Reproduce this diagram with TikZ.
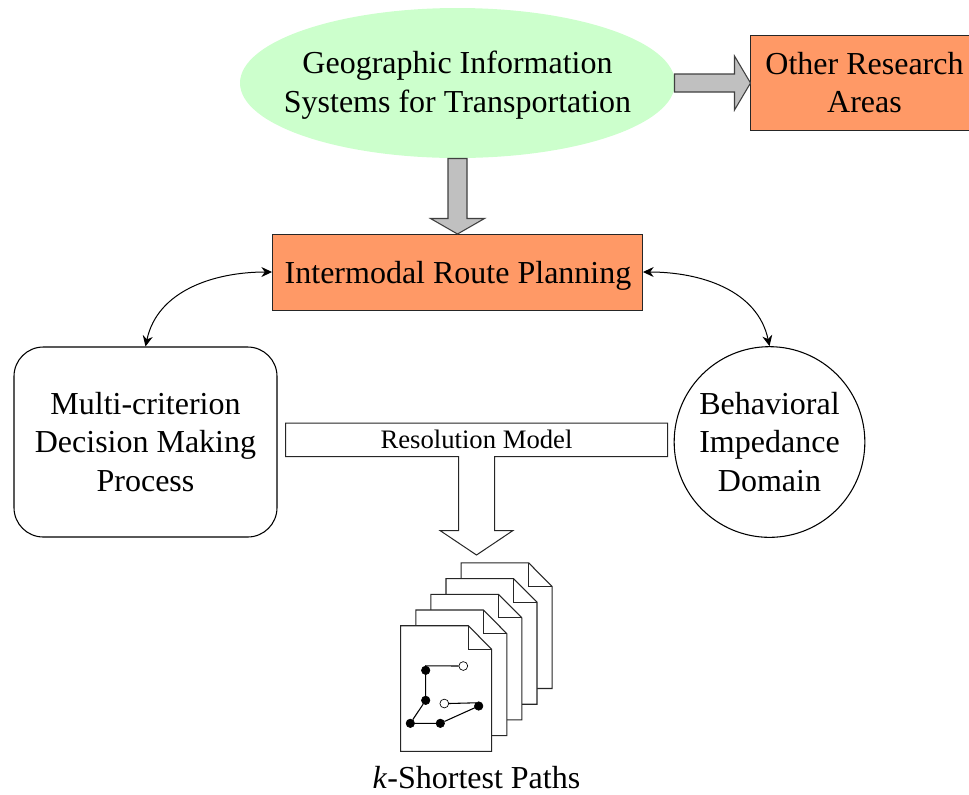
\documentclass[tikz,border=0pt]{standalone}
\usepackage{fontspec}
\setmainfont{Liberation Serif}
\usetikzlibrary{shapes.geometric,arrows.meta}
\definecolor{boxorange}{HTML}{FF9966}
\definecolor{ellgreen}{HTML}{CCFFCC}
\definecolor{arrgrey}{HTML}{C0C0C0}
\tikzset{
  lbl/.style={align=center,inner sep=0pt,font=\fontsize{24}{29}\selectfont},
  orangebox/.style={lbl,draw=black!85,fill=boxorange,line width=0.7pt,rectangle},
  blockarrow/.style={draw=black!75,fill=arrgrey,line width=0.8pt,line join=miter},
  whitearrow/.style={draw=black!85,fill=white,line width=0.75pt},
  curvearrow/.style={draw=black,line width=0.75pt,{Stealth[length=8pt,width=7.5pt]}-{Stealth[length=8pt,width=7.5pt]}},
  pagesheet/.style={draw=black!85,fill=white,line width=0.8pt},
  pathline/.style={draw=black,line width=0.8pt},
  blackdot/.style={circle,fill=black,draw=black,inner sep=0pt,line width=0.4pt,minimum size=6.4pt},
  opendot/.style={circle,fill=white,draw=black,line width=0.5pt,inner sep=0pt,minimum size=6.6pt},
}
\begin{document}
\begin{tikzpicture}[x=0.75pt,y=-0.75pt]
\useasboundingbox (0,0) rectangle (969,794);
\clip (0,0) rectangle (969,794);
% top ellipse and its text
\node[ellipse,fill=ellgreen,inner sep=0pt,minimum width=326.25pt,minimum height=112.5pt] (gis) at (457.5,83) {};
\node[lbl] (gistext) at (457.5,85) {Geographic Information\\Systems for Transportation};
% other research box (runs off the right edge)
\node[orangebox,minimum width=171pt,minimum height=71.25pt] (other) at (864.5,82.5) {Other Research\\Areas};
% route planning
\node[orangebox,minimum width=277.5pt,minimum height=57pt] (route) at (457.5,272) {};
\node[lbl] (routetext) at (458,275.5) {Intermodal Route Planning};
% rounded box
\node[lbl,draw=black,fill=white,line width=0.8pt,rectangle,rounded corners=22pt,minimum width=197.25pt,minimum height=142.5pt] (mcdm) at (145.5,442) {Multi-criterion\\Decision Making\\Process};
% circle
\node[lbl,draw=black,fill=white,line width=0.8pt,circle,minimum size=143pt] (bid) at (769.5,442) {Behavioral\\Impedance\\Domain};
% grey block arrows
\draw[blockarrow] (674.5,74) -- (734.5,74) -- (734.5,56) -- (750.5,83) -- (734.5,110) -- (734.5,92) -- (674.5,92) -- cycle;
\draw[blockarrow] (448,158.5) -- (467,158.5) -- (467,218.5) -- (484.5,218.5) -- (457.5,234) -- (430.5,218.5) -- (448,218.5) -- cycle;
% curved double arrows
\draw[curvearrow] (route.west) to[out=180,in=78] (mcdm.north);
\draw[curvearrow] (route.east) to[out=0,in=102] (bid.north);
% resolution model T arrow
\draw[whitearrow] (285.5,423) -- (667.5,423) -- (667.5,456.5) -- (494.5,456.5) -- (494.5,530.5) -- (513,530.5) -- (476.5,555) -- (440,530.5) -- (458.5,530.5) -- (458.5,456.5) -- (285.5,456.5) -- cycle;
\node[inner sep=0pt,font=\fontsize{20}{24}\selectfont] (resmodel) at (476.5,439.5) {Resolution Model};
% stacked pages
\foreach \i in {4,3,2,1,0}{
  \begin{scope}[shift={(15.1*\i,-15.7*\i)}]
    \draw[pagesheet] (400.7,625.7) -- (468.3,625.7) -- (491.7,649.3) -- (491.7,751.3) -- (400.7,751.3) -- cycle;
    \draw[pagesheet,fill=none] (468.3,625.7) -- (468.3,649.3) -- (491.7,649.3);
  \end{scope}
}
% path sketch on front page
\node[blackdot] (p1) at (425.7,670.3) {};
\node[blackdot] (p2) at (425.7,700.3) {};
\node[blackdot] (p3) at (410.3,723.3) {};
\node[blackdot] (p4) at (440.3,723.3) {};
\node[blackdot] (p5) at (478.7,706) {};
\node[opendot] (o1) at (463.3,666) {};
\node[opendot] (o2) at (444.3,703.5) {};
\draw[pathline] (o1.west) -- (p1.north) -- (p2) -- (p3) -- (p4) -- (p5.center) -- (p5.north west) -- (o2.east);
% caption
\node[lbl] (kpaths) at (476.5,778) {\textit{k}-Shortest Paths};
\end{tikzpicture}
\end{document}
